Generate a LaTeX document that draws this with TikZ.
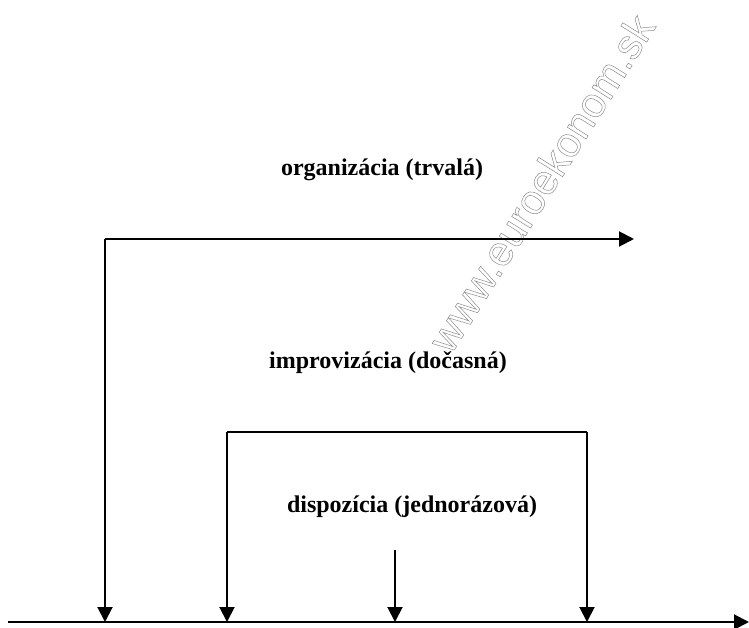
\documentclass[tikz,border=0pt]{standalone}
\usepackage{fontspec}
\setmainfont{Liberation Serif}
\newfontfamily\wmfont{Liberation Sans}
\usetikzlibrary{arrows.meta}
\tikzset{
  conn/.style={line width=2pt, -{Triangle[width=15pt,length=15pt]}},
  plain/.style={line width=2pt},
  lbl/.style={font=\fontsize{24}{28}\selectfont\bfseries, anchor=base, inner sep=0pt},
  wm/.style={font=\wmfont\fontsize{42}{46}\selectfont, text=black!45, inner sep=0pt, rotate=58}
}
\begin{document}
\begin{tikzpicture}[x=1pt,y=-1pt]
\useasboundingbox (0,0) rectangle (749,628);
% watermark
\node[wm] (wmark) at (541,183) {\special{pdf:code q 1 Tr 0.5 w}www.euroekonom.sk\special{pdf:code Q}};
% axis
\coordinate (axL) at (8,622);
\coordinate (axR) at (749,622);
\draw[conn] (axL) -- (axR);
% organizacia
\coordinate (o1) at (105,239);
\coordinate (o2) at (634,239);
\draw[conn] (o1) -- (o2);
\draw[conn] (o1) -- (o1 |- axL);
\node[lbl] (org) at (382,176) {organizácia (trvalá)};
% improvizacia
\coordinate (i1) at (227,432);
\coordinate (i2) at (587,432);
\draw[plain] (i1) -- (i2);
\draw[conn] (i1) -- (i1 |- axL);
\draw[conn] (i2) -- (i2 |- axL);
\node[lbl] (imp) at (388,368) {improvizácia (dočasná)};
% dispozicia
\coordinate (d1) at (395,550);
\draw[conn] (d1) -- (d1 |- axL);
\node[lbl] (dis) at (412,512) {dispozícia (jednorázová)};
\end{tikzpicture}
\end{document}
